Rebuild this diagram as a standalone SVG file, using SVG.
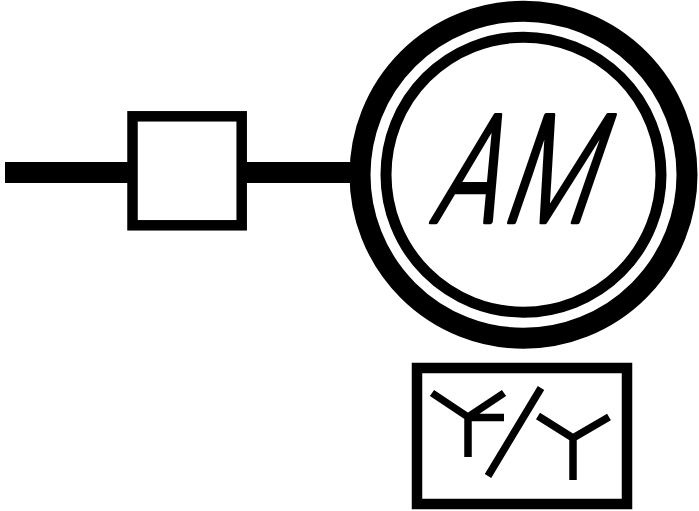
<svg xmlns="http://www.w3.org/2000/svg" width="699" height="511" viewBox="0 0 699 511">
<style>
.o{fill:none;stroke:#000}
.w{stroke-width:7.500;fill:none;stroke:#000}
.t{font-family:"Roboto","Liberation Sans",sans-serif;font-weight:300;font-size:150px;fill:#000;stroke:#000;stroke-width:4.500;stroke-linejoin:round}
</style>
<rect width="699" height="511" fill="#fff"/>
<g id="connectors">
<line x1="5" y1="172.400" x2="128" y2="172.400" stroke="#000" stroke-width="21"/>
<line x1="246" y1="172.400" x2="356" y2="172.400" stroke="#000" stroke-width="21"/>
</g>
<g id="switch"><rect x="132.500" y="116.300" width="109.200" height="109" fill="#fff" class="o" stroke-width="10.500"/></g>
<g id="motor">
<circle cx="523.500" cy="174.700" r="163.500" class="o" stroke-width="21"/>
<circle cx="523.500" cy="174.700" r="137.500" class="o" stroke-width="11"/>
<text class="t" transform="translate(429 222) skewX(-19) scale(.68 1)"><tspan>A</tspan><tspan dx="10">M</tspan></text>
</g>
<g id="winding-box">
<rect x="417" y="368" width="210" height="136" class="o" stroke-width="10.500" fill="#fff"/>
<path class="w" d="M432 393L468 417M504 393L468 417V457M468 417.500H504M488 476L541 388M538 416L573 438M609 417L573 438V480"/>
</g>
</svg>
